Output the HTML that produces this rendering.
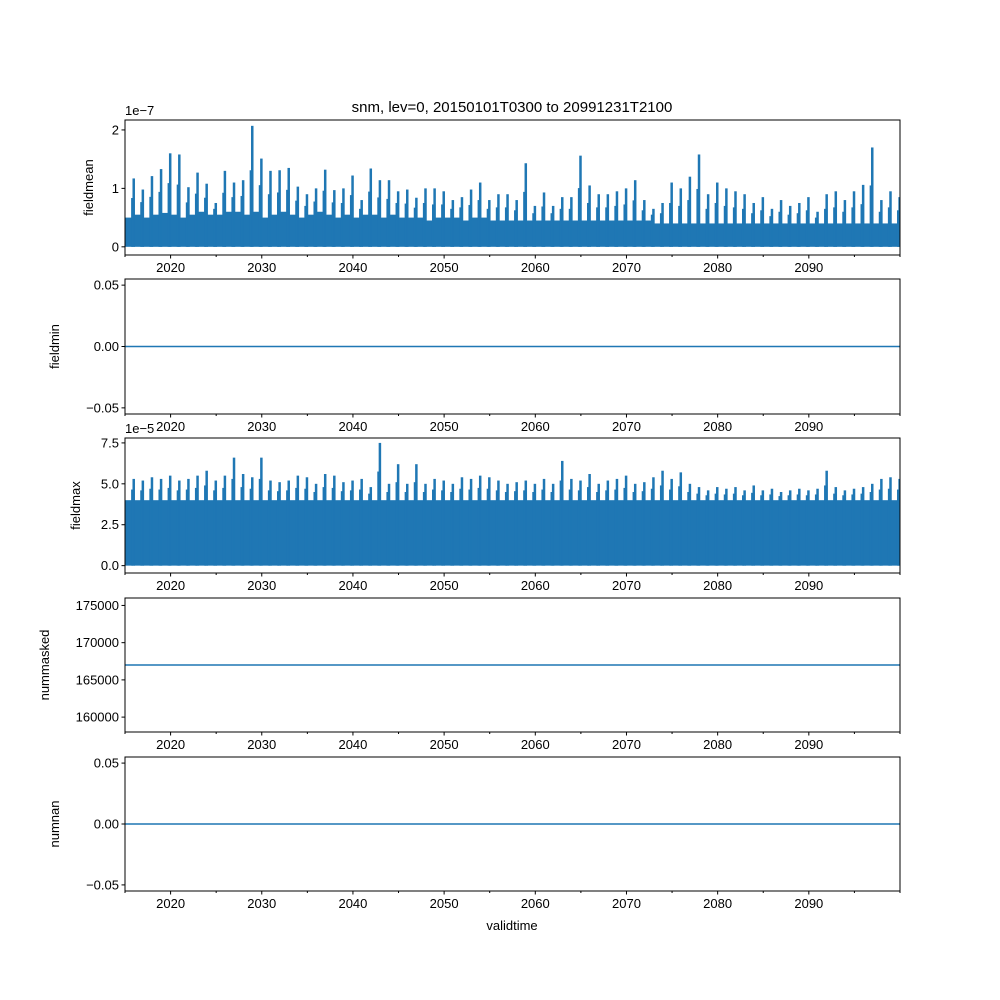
<!DOCTYPE html>
<html><head><meta charset="utf-8"><style>
body{margin:0;background:#fff;}
svg{display:block;font-family:"Liberation Sans","DejaVu Sans",sans-serif;}
</style></head><body>
<svg id="fig" width="1000" height="1000" viewBox="0 0 1000 1000"></svg>
<script>
// ---- data ----
const years = [];
for (let y = 2015; y < 2100; y++) years.push(y);
const xTicks = [2020,2030,2040,2050,2060,2070,2080,2090];
const xMinorTicks = [2015,2025,2035,2045,2055,2065,2075,2085,2095,2100];
// fieldmean yearly peaks (x1e-7)
const meanPeaks = [1.17,0.98,1.21,1.33,1.6,1.58,1.02,1.27,1.08,0.75,1.3,1.1,1.14,2.07,1.51,1.3,1.31,1.35,1.03,0.9,1.0,1.32,0.97,1.0,1.22,0.8,1.34,1.14,1.14,0.95,0.98,0.84,1.0,1.0,0.95,0.8,0.85,0.98,1.1,0.8,0.9,0.9,0.8,1.43,0.7,0.93,0.7,0.85,0.85,1.56,1.05,0.9,0.9,0.95,1.0,1.14,0.8,0.65,0.75,1.1,1.0,1.2,1.58,0.9,1.1,1.0,0.95,0.9,0.75,0.85,0.65,0.8,0.7,0.75,0.85,0.6,0.9,0.95,0.8,0.95,1.06,1.7,0.8,0.95,0.85];
// fieldmean yearly base level (x1e-7)
const meanBase = [0.5,0.55,0.5,0.55,0.58,0.55,0.5,0.55,0.6,0.55,0.55,0.6,0.6,0.55,0.6,0.5,0.55,0.6,0.55,0.5,0.55,0.6,0.55,0.5,0.55,0.5,0.55,0.55,0.5,0.55,0.5,0.5,0.5,0.45,0.5,0.5,0.5,0.45,0.5,0.5,0.45,0.45,0.45,0.45,0.45,0.45,0.45,0.45,0.45,0.45,0.45,0.45,0.45,0.45,0.45,0.45,0.45,0.45,0.4,0.4,0.4,0.4,0.4,0.4,0.4,0.4,0.4,0.4,0.4,0.4,0.4,0.4,0.4,0.4,0.4,0.4,0.4,0.4,0.4,0.4,0.4,0.4,0.4,0.4,0.4];
// fieldmax yearly peaks (x1e-5)
const maxPeaks = [5.3,5.2,5.4,5.3,5.5,5.2,5.3,5.5,5.8,5.2,5.5,6.6,5.6,5.4,6.6,5.2,5.1,5.2,5.5,5.4,5.0,5.6,5.5,5.1,5.2,5.3,4.8,7.5,5.0,6.2,5.0,6.2,5.0,5.3,5.2,5.0,5.4,5.3,5.5,5.4,5.2,5.0,5.1,5.2,5.0,5.3,5.0,6.4,5.3,5.2,5.6,5.0,5.2,5.3,5.5,5.0,5.1,5.4,5.8,5.3,5.7,5.0,4.8,4.6,4.8,4.7,4.8,4.6,4.9,4.6,4.7,4.5,4.6,4.7,4.6,4.7,5.8,4.8,4.6,4.7,4.8,5.0,5.3,5.4,5.3];
const maxBase = years.map(()=>4.0);
const minValue = 0;
const maskedValue = 167000;
const nanValue = 0;

// ---- layout ----
const L = 125, R = 900;
const panels = [
  {top:120,bot:255,ymin:-0.14,ymax:2.17,ticks:[0,1,2],labels:["0","1","2"],name:"fieldmean",lx:93,off:"1e\u22127"},
  {top:279,bot:414,ymin:-0.055,ymax:0.055,ticks:[-0.05,0,0.05],labels:["\u22120.05","0.00","0.05"],name:"fieldmin",lx:59},
  {top:438,bot:573,ymin:-0.45,ymax:7.8,ticks:[0,2.5,5,7.5],labels:["0.0","2.5","5.0","7.5"],name:"fieldmax",lx:80,off:"1e\u22125"},
  {top:598,bot:732,ymin:158000,ymax:176000,ticks:[160000,165000,170000,175000],labels:["160000","165000","170000","175000"],name:"nummasked",lx:49},
  {top:757,bot:891,ymin:-0.055,ymax:0.055,ticks:[-0.05,0,0.05],labels:["\u22120.05","0.00","0.05"],name:"numnan",lx:59}
];
const C = "#1f77b4";
const svg = document.getElementById('fig');
const NS = "http://www.w3.org/2000/svg";
function el(tag, attrs, parent){const e=document.createElementNS(NS,tag);for(const k in attrs)e.setAttribute(k,attrs[k]);(parent||svg).appendChild(e);return e;}
const xs = v => L + (v-2015)/(2100-2015)*(R-L);

const title = el('text',{x:512,y:112,'text-anchor':'middle','font-size':15});
title.textContent = "snm, lev=0, 20150101T0300 to 20991231T2100";



panels.forEach((p,pi)=>{
  const g = el('g',{});
  
  
  const ys = v => p.bot - (v-p.ymin)/(p.ymax-p.ymin)*(p.bot-p.top);
  const clipId = 'c'+pi;
  const cp = el('clipPath',{id:clipId},g); el('rect',{x:L,y:p.top,width:R-L,height:p.bot-p.top},cp);
  const dg = el('g',{'clip-path':'url(#'+clipId+')'},g);
  
  
  if (pi===0 || pi===2) {
    const peaks = pi===0?meanPeaks:maxPeaks, base = pi===0?meanBase:maxBase;
    years.forEach((y,i)=>{
      const r = el('rect',{x:xs(y),y:ys(base[i]),width:xs(y+1)-xs(y)+0.5,height:ys(0)-ys(base[i]),fill:C},dg);
      
      
      const s = el('rect',{x:xs(y+0.93)-1,y:ys(peaks[i]),width:2.5,height:ys(0)-ys(peaks[i]),fill:C},dg);
      
      
      const s2 = el('rect',{x:xs(y+0.78)-1,y:ys((peaks[i]+base[i])/2),width:2,height:ys(0)-ys((peaks[i]+base[i])/2),fill:C},dg);
      
      
    });
  } else {
    const v = pi===1?minValue:(pi===3?maskedValue:nanValue);
    el('line',{x1:L,x2:R,y1:ys(v),y2:ys(v),stroke:C,'stroke-width':1.5},dg);
  }
  const frame = el('rect',{x:L,y:p.top,width:R-L,height:p.bot-p.top,fill:'none',stroke:'#000','stroke-width':1},g);
  
  
  p.ticks.forEach((t,i)=>{
    el('line',{x1:L-3.5,x2:L,y1:ys(t),y2:ys(t),stroke:'#000'},g);
    const tx = el('text',{x:L-6,y:ys(t)+4.5,'text-anchor':'end','font-size':13},g);
    tx.textContent = p.labels[i];
    
    
  });
  xTicks.forEach(t=>{
    el('line',{x1:xs(t),x2:xs(t),y1:p.bot,y2:p.bot+3.5,stroke:'#000'},g);
    const tx = el('text',{x:xs(t),y:p.bot+17,'text-anchor':'middle','font-size':13},g);
    tx.textContent = t;
    
    
  });
  xMinorTicks.forEach(t=>{ el('line',{x1:xs(t),x2:xs(t),y1:p.bot,y2:p.bot+2,stroke:'#000'},g); });
  const yl = el('text',{x:p.lx,y:(p.top+p.bot)/2,'text-anchor':'middle','font-size':13,transform:`rotate(-90 ${p.lx} ${(p.top+p.bot)/2})`},g);
  yl.textContent = p.name;
  
  
  if (p.off) {
    const o = el('text',{x:L,y:p.top-5,'font-size':13},g);
    o.textContent = p.off;
    
    
  }
});
const xl = el('text',{x:512,y:930,'text-anchor':'middle','font-size':13});
xl.textContent = "validtime";


</script>
</body></html>
